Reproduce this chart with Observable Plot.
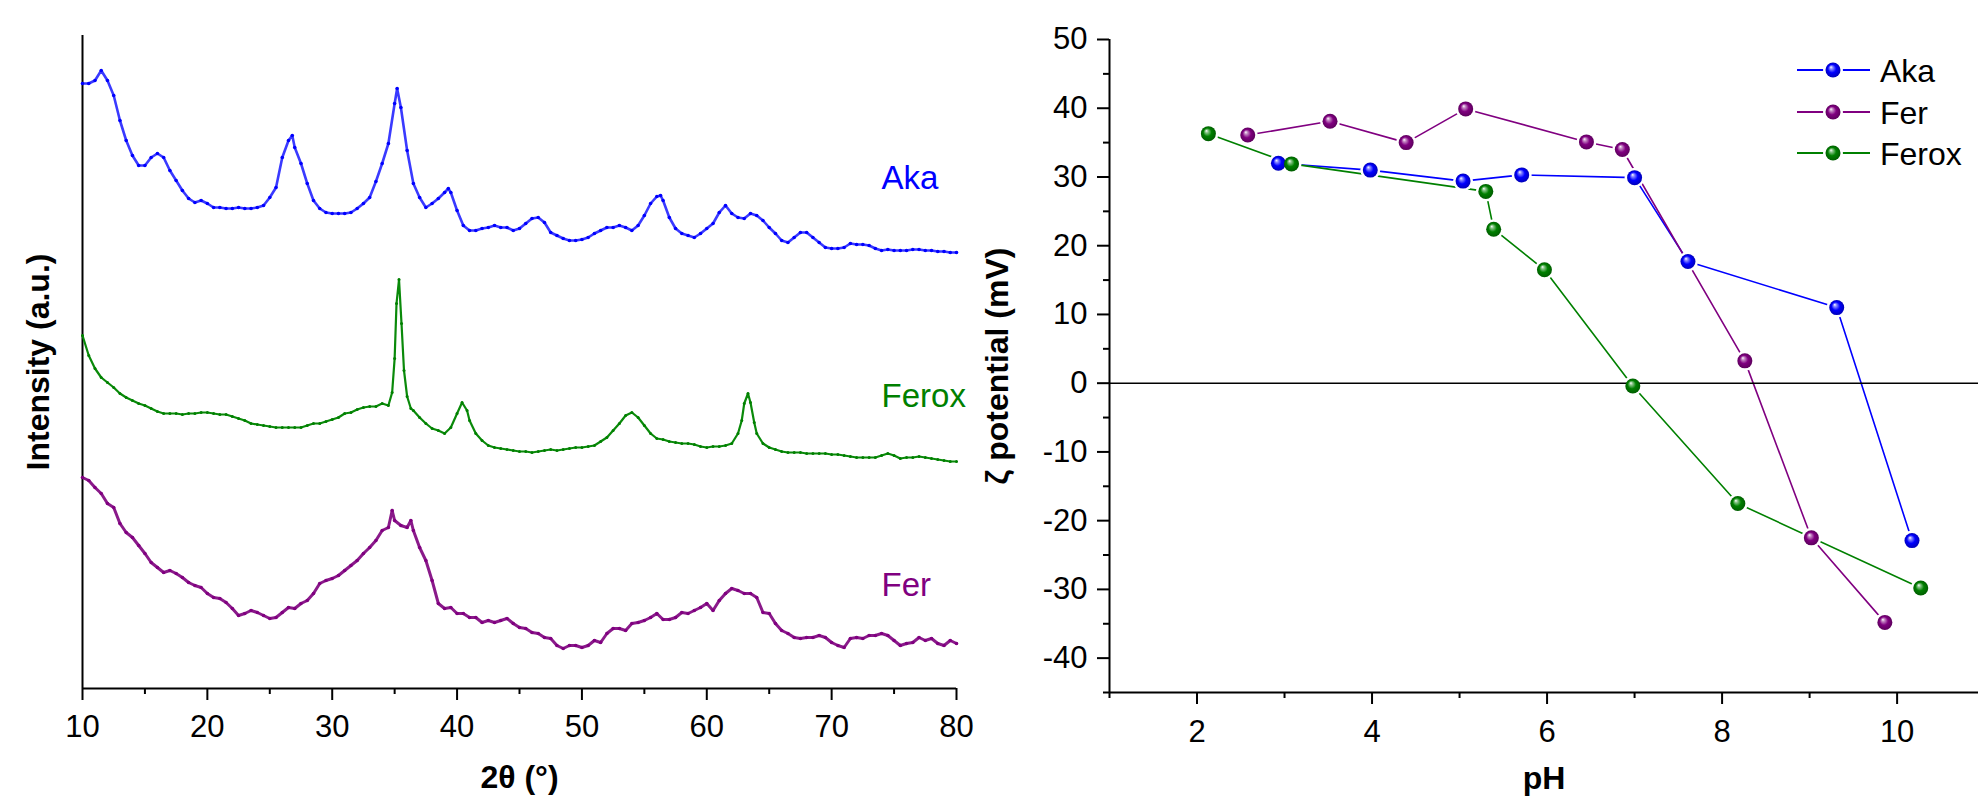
<!DOCTYPE html>
<html><head><meta charset="utf-8">
<script src="https://cdn.jsdelivr.net/npm/d3@7"></script>
<script src="https://cdn.jsdelivr.net/npm/@observablehq/plot@0.6"></script>
<style>
html,body{margin:0;padding:0;background:#fff;}
#wrap{position:relative;width:1978px;height:809px;overflow:hidden;background:#fff;}
#left{position:absolute;left:0;top:0;width:985px;height:809px;}
#right{position:absolute;left:975px;top:0;width:1003px;height:809px;}
svg{max-width:none !important;}
</style></head><body>
<div id="wrap"><div id="left"></div><div id="right"></div></div>
<script>
const FONT = "'Liberation Sans', Arial, Helvetica, sans-serif";

// ---------- XRD patterns: [2θ (°), intensity (a.u.)] ----------
const akaPattern = [[10,605],[10.5,605],[11,608],[11.5,618],[12,608],[12.5,593],[13,568],[13.5,548],[14,533],[14.5,523],[15,523],[15.5,531],[16,535],[16.5,531],[17,518],[17.5,508],[18,498],[18.5,490],[19,486],[19.5,488],[20,485],[20.5,481],[21,481],[21.5,480],[22,480],[22.5,481],[23,480],[23.5,480],[24,481],[24.5,483],[25,491],[25.5,501],[26,531],[26.5,548],[26.8,553],[27,541],[27.5,525],[28,505],[28.5,488],[29,480],[29.5,476],[30,475],[30.5,475],[31,475],[31.5,476],[32,480],[32.5,485],[33,491],[33.5,507],[34,525],[34.5,545],[35,585],[35.2,600],[35.5,581],[36,538],[36.5,505],[37,491],[37.5,481],[38,485],[38.5,490],[39,496],[39.3,500],[39.5,496],[40,478],[40.5,463],[41,458],[41.5,458],[42,460],[42.5,461],[43,463],[43.5,461],[44,461],[44.5,458],[45,460],[45.5,465],[46,470],[46.5,471],[47,466],[47.5,456],[48,453],[48.5,450],[49,448],[49.5,448],[50,449],[50.5,451],[51,455],[51.5,458],[52,461],[52.5,461],[53,463],[53.5,461],[54,458],[54.5,463],[55,473],[55.5,485],[56,492],[56.3,493],[56.5,488],[57,471],[57.5,460],[58,455],[58.5,453],[59,451],[59.5,455],[60,460],[60.5,465],[61,476],[61.5,483],[62,475],[62.5,471],[63,470],[63.5,475],[64,473],[64.5,468],[65,461],[65.5,455],[66,448],[66.5,446],[67,451],[67.5,456],[68,456],[68.5,451],[69,446],[69.5,441],[70,440],[70.5,440],[71,441],[71.5,445],[72,444],[72.5,444],[73,443],[73.5,440],[74,438],[74.5,439],[75,438],[75.5,438],[76,438],[76.5,439],[77,439],[77.5,438],[78,438],[78.5,437],[79,437],[79.5,436],[80,436]];

const feroxPattern = [[10,353],[10.5,333],[11,320],[11.5,311],[12,306],[12.5,301],[13,295],[13.5,291],[14,288],[14.5,285],[15,283],[15.5,280],[16,277],[16.5,275],[17,275],[17.5,275],[18,274],[18.5,275],[19,275],[19.5,276],[20,276],[20.5,275],[21,274],[21.5,274],[22,272],[22.5,270],[23,268],[23.5,265],[24,264],[24.5,263],[25,262],[25.5,261],[26,261],[26.5,261],[27,261],[27.5,261],[28,263],[28.5,265],[29,265],[29.5,267],[30,269],[30.5,271],[31,275],[31.5,276],[32,279],[32.5,281],[33,282],[33.5,282],[34,285],[34.5,283],[34.8,296],[35,330],[35.15,385],[35.35,409],[35.55,365],[35.75,318],[36,292],[36.3,280],[36.5,278],[37,271],[37.5,265],[38,260],[38.5,258],[39,255],[39.5,261],[40,275],[40.4,286],[40.8,278],[41,268],[41.5,255],[42,248],[42.5,243],[43,241],[43.5,240],[44,239],[44.5,238],[45,237],[45.5,237],[46,236],[46.5,237],[47,238],[47.5,239],[48,238],[48.5,239],[49,240],[49.5,241],[50,241],[50.5,242],[51,243],[51.5,247],[52,251],[52.5,258],[53,265],[53.5,273],[54,276],[54.5,271],[55,263],[55.5,255],[56,250],[56.5,249],[57,247],[57.5,246],[58,245],[58.5,245],[59,244],[59.5,242],[60,241],[60.5,242],[61,242],[61.5,243],[62,245],[62.5,255],[62.8,268],[63,285],[63.3,295],[63.5,286],[63.8,266],[64,255],[64.5,245],[65,241],[65.5,239],[66,237],[66.5,236],[67,236],[67.5,236],[68,235],[68.5,235],[69,235],[69.5,235],[70,234],[70.5,234],[71,233],[71.5,232],[72,231],[72.5,231],[73,231],[73.5,231],[74,233],[74.5,235],[75,233],[75.5,230],[76,231],[76.5,231],[77,232],[77.5,231],[78,230],[78.5,229],[79,228],[79.5,227],[80,227]];

const ferPattern = [[10,211],[10.5,208],[11,201],[11.5,195],[12,185],[12.5,181],[13,165],[13.5,156],[14,151],[14.5,143],[15,135],[15.5,126],[16,121],[16.5,116],[17,118],[17.5,115],[18,111],[18.5,106],[19,103],[19.5,101],[20,95],[20.5,91],[21,90],[21.5,86],[22,80],[22.5,73],[23,75],[23.5,78],[24,76],[24.5,73],[25,70],[25.5,71],[26,76],[26.5,81],[27,80],[27.5,85],[28,88],[28.5,95],[29,105],[29.5,108],[30,110],[30.5,113],[31,118],[31.5,123],[32,128],[32.5,135],[33,141],[33.5,148],[34,158],[34.5,161],[34.8,178],[35,168],[35.5,163],[36,161],[36.3,168],[36.5,158],[37,141],[37.5,128],[38,108],[38.5,85],[39,80],[39.5,81],[40,75],[40.5,75],[41,71],[41.5,71],[42,66],[42.5,68],[43,66],[43.5,68],[44,70],[44.5,65],[45,61],[45.5,60],[46,56],[46.5,55],[47,51],[47.5,50],[48,43],[48.5,40],[49,43],[49.5,43],[50,41],[50.5,43],[51,48],[51.5,46],[52,55],[52.5,60],[53,60],[53.5,58],[54,65],[54.5,66],[55,68],[55.5,71],[56,75],[56.5,69],[57,69],[57.5,71],[58,76],[58.5,75],[59,78],[59.5,81],[60,85],[60.5,78],[61,88],[61.5,95],[62,100],[62.5,98],[63,95],[63.5,95],[64,91],[64.5,76],[65,75],[65.5,65],[66,58],[66.5,55],[67,51],[67.5,50],[68,51],[68.5,51],[69,53],[69.5,51],[70,46],[70.5,43],[71,41],[71.5,50],[72,51],[72.5,50],[73,53],[73.5,53],[74,55],[74.5,53],[75,48],[75.5,43],[76,45],[76.5,46],[77,51],[77.5,48],[78,50],[78.5,45],[79,43],[79.5,48],[80,45]];

const xrdTicks = [10, 20, 30, 40, 50, 60, 70, 80];
const xrdMinorTicks = [15, 25, 35, 45, 55, 65, 75];
const xrdLabelNames = ["Aka", "Ferox", "Fer"];
const xrdLabelTheta = [74.0, 74.0, 74.0];
const xrdLabelIntensity = [500, 282, 93];

// ---------- Zeta potential ----------
const sampleNames = ["Aka", "Fer", "Ferox"];
const sampleColors = ["#0000ff", "#800080", "#008000"];
const phAka = [2.93, 3.98, 5.04, 5.71, 7.0, 7.61, 9.31, 10.17];
const zetaAka = [32.0, 31.0, 29.4, 30.3, 29.9, 17.7, 11.0, -22.9];
const phFer = [2.58, 3.52, 4.39, 5.07, 6.45, 6.86, 8.26, 9.02, 9.86];
const zetaFer = [36.1, 38.1, 35.0, 39.9, 35.1, 34.0, 3.25, -22.5, -34.8];
const phFerox = [2.13, 3.08, 5.30, 5.39, 5.97, 6.98, 8.18, 10.27];
const zetaFerox = [36.3, 31.9, 27.9, 22.4, 16.5, -0.4, -17.5, -29.8];
const phTicks = [2, 4, 6, 8, 10];
const phMinorTicks = [1, 3, 5, 7, 9];
const zetaTicks = [-40, -30, -20, -10, 0, 10, 20, 30, 40, 50];
const zetaMinorTicks = [-45, -35, -25, -15, -5, 5, 15, 25, 35, 45];

// ---------- build tables ----------
const toRows = (pat, name) => pat.map(([t, i]) => ({t, i, name}));
const aka = toRows(akaPattern, "Aka");
const ferox = toRows(feroxPattern, "Ferox");
const fer = toRows(ferPattern, "Fer");
const xrdLabels = xrdLabelNames.map((name, k) => ({name, t: xrdLabelTheta[k], i: xrdLabelIntensity[k]}));

const zRows = (ph, z, name) => ph.map((p, k) => ({ph: p, zeta: z[k], sample: name}));
const zAka = zRows(phAka, zetaAka, "Aka");
const zFer = zRows(phFer, zetaFer, "Fer");
const zFerox = zRows(phFerox, zetaFerox, "Ferox");
const zAll = [...zAka, ...zFer, ...zFerox];

const baseStyle = {fontFamily: FONT, color: "black", background: "transparent"};

// ---------- left: XRD ----------
const left = Plot.plot({
  width: 985, height: 809,
  marginLeft: 82, marginRight: 29, marginTop: 35, marginBottom: 121,
  style: baseStyle,
  x: {domain: [10, 80], label: null},
  y: {domain: [0, 653], axis: null, label: null},
  color: {domain: sampleNames, range: sampleColors},
  marks: [
    Plot.axisX({ticks: xrdMinorTicks, tickSize: 6, tickFormat: () => "", strokeWidth: 2, label: null}),
    Plot.axisX({ticks: xrdTicks, tickSize: 12, tickPadding: 14, fontSize: 31, strokeWidth: 2, label: null}),
    Plot.ruleX([10], {stroke: "black", strokeWidth: 2}),
    Plot.ruleY([0], {stroke: "black", strokeWidth: 2}),
    Plot.line(aka, {x: "t", y: "i", stroke: "#3a3aff", strokeWidth: 2.6}),
    Plot.dot(aka, {x: "t", y: "i", r: 1.8, fill: "#0000ff", stroke: null}),
    Plot.line(ferox, {x: "t", y: "i", stroke: "#0a8a0a", strokeWidth: 2.2}),
    Plot.dot(ferox, {x: "t", y: "i", r: 1.5, fill: "#008000", stroke: null}),
    Plot.line(fer, {x: "t", y: "i", stroke: "#8a1a8a", strokeWidth: 3}),
    Plot.dot(fer, {x: "t", y: "i", r: 1.8, fill: "#800080", stroke: null}),
    Plot.text(xrdLabels, {x: "t", y: "i", text: "name", fill: "name", textAnchor: "start", lineAnchor: "bottom", fontSize: 33}),
    Plot.text(["2θ (°)"], {frameAnchor: "bottom", dy: 99, fontSize: 32, fontWeight: "bold", fill: "black", textAnchor: "middle"}),
    Plot.text(["Intensity (a.u.)"], {frameAnchor: "left", dx: -44, rotate: -90, fontSize: 32, fontWeight: "bold", fill: "black", textAnchor: "middle"})
  ]
});
document.getElementById("left").appendChild(left);

// ---------- right: zeta potential ----------
const right = Plot.plot({
  width: 1003, height: 809,
  marginLeft: 134, marginRight: 0, marginTop: 39, marginBottom: 117,
  style: baseStyle,
  x: {domain: [1, 10.93], label: null},
  y: {domain: [-45, 50], label: null},
  color: {domain: sampleNames, range: sampleColors},
  marks: [
    Plot.axisY({ticks: zetaMinorTicks, tickSize: 6, tickFormat: () => "", strokeWidth: 2, label: null}),
    Plot.axisY({ticks: zetaTicks, tickSize: 12, tickPadding: 10, fontSize: 31, tickFormat: d => String(d), strokeWidth: 2, label: null}),
    Plot.axisX({ticks: phMinorTicks, tickSize: 6, tickFormat: () => "", strokeWidth: 2, label: null}),
    Plot.axisX({ticks: phTicks, tickSize: 12, tickPadding: 15, fontSize: 31, strokeWidth: 2, label: null}),
    Plot.ruleX([1], {stroke: "black", strokeWidth: 2}),
    Plot.ruleY([-45], {stroke: "black", strokeWidth: 2}),
    Plot.line(zAll, {x: "ph", y: "zeta", z: "sample", stroke: "sample", strokeWidth: 1.6}),
    Plot.dot(zAll, {x: "ph", y: "zeta", r: 10, fill: "white", stroke: null}),
    Plot.ruleY([0], {stroke: "black", strokeWidth: 1.6}),
    Plot.dot(zAka, {x: "ph", y: "zeta", r: 7.5, fill: "url(#ball-Aka)", stroke: null}),
    Plot.dot(zFer, {x: "ph", y: "zeta", r: 7.5, fill: "url(#ball-Fer)", stroke: null}),
    Plot.dot(zFerox, {x: "ph", y: "zeta", r: 7.5, fill: "url(#ball-Ferox)", stroke: null}),
    Plot.text(["pH"], {frameAnchor: "bottom", dy: 96, fontSize: 32, fontWeight: "bold", fill: "black", textAnchor: "middle"}),
    Plot.text(["ζ potential (mV)"], {frameAnchor: "left", dx: -112, rotate: -90, fontSize: 32, fontWeight: "bold", fill: "black", textAnchor: "middle"})
  ]
});
document.getElementById("right").appendChild(right);

// gradients for ball markers
function addDefs(svg) {
  const defs = d3.select(svg).insert("defs", ":first-child");
  sampleNames.forEach((name, k) => {
    const base = sampleColors[k];
    const g = defs.append("radialGradient").attr("id", "ball-" + name)
      .attr("cx", "50%").attr("cy", "50%").attr("r", "50%").attr("fx", "36%").attr("fy", "30%");
    g.append("stop").attr("offset", "0%").attr("stop-color", "#ffffff");
    g.append("stop").attr("offset", "20%").attr("stop-color", d3.interpolateRgb(base, "#ffffff")(0.55));
    g.append("stop").attr("offset", "55%").attr("stop-color", base);
    g.append("stop").attr("offset", "100%").attr("stop-color", d3.color(base).darker(0.9).formatHex());
  });
}
addDefs(right);

// legend (inside the right panel)
const lg = d3.select(right).append("g").attr("class", "legend");
const legendY = [70, 112, 153];
sampleNames.forEach((name, k) => {
  const y = legendY[k];
  lg.append("line").attr("x1", 822).attr("x2", 895).attr("y1", y).attr("y2", y)
    .attr("stroke", sampleColors[k]).attr("stroke-width", 1.8);
  lg.append("circle").attr("cx", 858).attr("cy", y).attr("r", 10).attr("fill", "white");
  lg.append("circle").attr("cx", 858).attr("cy", y).attr("r", 7.5).attr("fill", `url(#ball-${name})`);
  lg.append("text").attr("x", 905).attr("y", y + 12).attr("font-size", 32)
    .attr("text-anchor", "start")
    .attr("font-family", FONT).attr("fill", "black").text(name);
});
</script>
</body></html>
